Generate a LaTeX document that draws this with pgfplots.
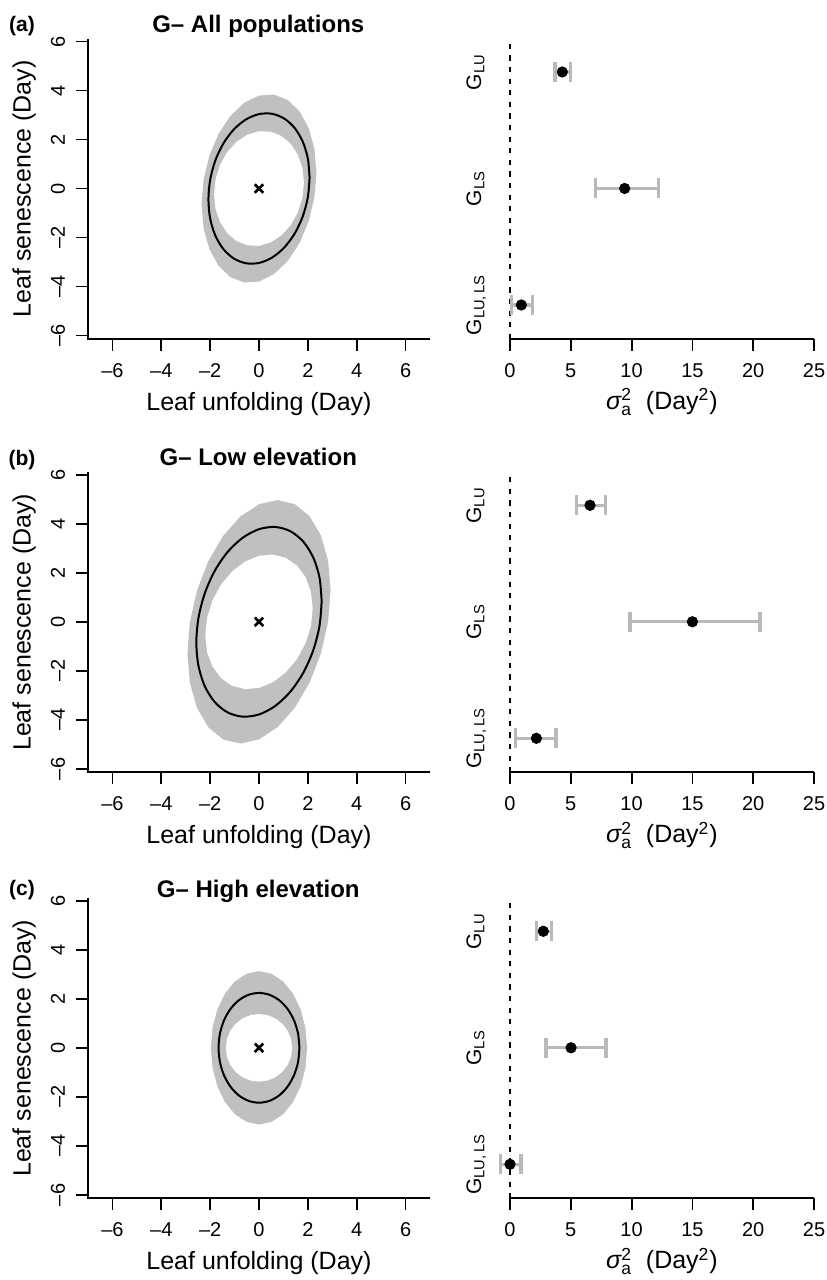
\documentclass[border=0pt]{standalone}
\usepackage{amsmath}
\usepackage{fontspec}
\setmainfont{Liberation Sans}
\usepackage{pgfplots}
\pgfplotsset{compat=1.18}
\definecolor{band}{RGB}{192,192,192}
\definecolor{errc}{RGB}{185,185,185}
\newcommand{\tickfont}{\fontsize{10}{12}\selectfont}
\newcommand{\labfont}{\fontsize{12.5}{15}\selectfont}
\newcommand{\glfont}{\fontsize{10.5}{12}\selectfont}
\newcommand{\lbl}[1]{\ifdim#1pt<0pt –\number-#1\else#1\fi}
\pgfplotsset{
 panelbase/.style={scale only axis, height=150pt,
   axis line style={draw=none},
   xtick pos=left, ytick pos=left,
   tick align=outside, major tick length=5.8pt,
   tick style={line width=0.9pt,black}, clip=false},
 leftax/.style={panelbase, width=171pt, xmin=-7, xmax=7, ymin=-6.14, ymax=6.1,
   xtick={-6,-4,...,6}, ytick={-6,-4,...,6},
   xticklabels={,,,,,,}, yticklabels={,,,,,,}},
 rightax/.style={panelbase, width=152pt, xmin=0, xmax=25, ymin=0.708, ymax=3.283,
   xtick={0,5,...,25}, xticklabels={,,,,,}, ytick=\empty},
 outer/.style={fill=band, draw=none},
 inner/.style={fill=white, draw=none},
 mean/.style={black, line width=1pt},
 cross/.style={only marks, mark=x, mark size=3pt, mark options={line width=1.3pt, black}},
 eb/.style={errc, line width=1.6pt, mark=|, mark size=5pt, mark options={line width=1.6pt, errc}},
 dotpt/.style={only marks, mark=*, mark size=2.6pt, black},
 zline/.style={black, line width=0.6pt, dash pattern=on 2.6pt off 3.2pt},
}
\newcommand{\Lframe}{%
  \draw[line width=0.9pt] (rel axis cs:0,1) -- (rel axis cs:0,0) -- (rel axis cs:1,0);
  \pgfplotsinvokeforeach{-6,-4,-2,0,2,4,6}{%
    \node[font=\tickfont, anchor=base, yshift=-19pt] at (axis cs:##1,-6.14) {\lbl{##1}};
    \node[font=\tickfont, xshift=-11.5pt, rotate=90, anchor=base] at (axis cs:-7,##1) {\lbl{##1}};}
  \node[font=\labfont] at (axis description cs:0.5,-0.2153) {Leaf unfolding (Day)};
  \node[font=\labfont, rotate=90] at (axis description cs:-0.187,0.5) {Leaf senescence (Day)};}
\newcommand{\Bframe}{%
  \draw[line width=0.9pt] (rel axis cs:0,0) -- (rel axis cs:1,0);
  \pgfplotsinvokeforeach{0,5,10,15,20,25}{%
    \node[font=\tickfont, anchor=base, yshift=-19pt] at (axis cs:##1,0.708) {##1};}
  \node[font=\glfont, xshift=-14.5pt, rotate=90, anchor=base] at (axis cs:0,3) {G\textsubscript{LU}};
  \node[font=\glfont, xshift=-14.5pt, rotate=90, anchor=base] at (axis cs:0,2) {G\textsubscript{LS}};
  \node[font=\glfont, xshift=-14.5pt, rotate=90, anchor=base] at (axis cs:0,1) {G\textsubscript{LU,\,LS}};
  \node[font=\labfont] at (axis description cs:0.5,-0.21) {{\itshape σ}$^{\text{2}}_{\text{a}}$\ \ (Day\textsuperscript{2})};}
\begin{document}
\begin{tikzpicture}
\path[use as bounding box] (0,0) rectangle (413pt,-640pt);
% ---------- Row (a)
\node[anchor=base, font=\bfseries\fontsize{10.5}{12}\selectfont] at (11pt,-15.85pt) {(a)};
\node[anchor=base, font=\bfseries\fontsize{12}{14}\selectfont] at (129.15pt,-16pt) {G– All populations};
\begin{axis}[leftax, at={(44pt,-169.5pt)}, anchor=south west]
\addplot[outer] coordinates {(2.350,0.655) (2.270,1.615) (2.035,2.464) (1.662,3.146) (1.175,3.614) (0.608,3.835) (0,3.794) (-0.608,3.495) (-1.175,2.958) (-1.662,2.220) (-2.035,1.330) (-2.270,0.349) (-2.350,-0.655) (-2.270,-1.615) (-2.035,-2.464) (-1.662,-3.146) (-1.175,-3.614) (-0.608,-3.835) (0,-3.794) (0.608,-3.495) (1.175,-2.958) (1.662,-2.220) (2.035,-1.330) (2.270,-0.349) (2.350,0.655)} -- cycle;
\addplot[inner] coordinates {(1.840,0.235) (1.777,0.832) (1.593,1.373) (1.301,1.819) (0.920,2.143) (0.476,2.319) (0,2.338) (-0.476,2.197) (-0.920,1.907) (-1.301,1.487) (-1.593,0.965) (-1.777,0.378) (-1.840,-0.235) (-1.777,-0.832) (-1.593,-1.373) (-1.301,-1.819) (-0.920,-2.143) (-0.476,-2.319) (0,-2.338) (0.476,-2.197) (0.920,-1.907) (1.301,-1.487) (1.593,-0.965) (1.777,-0.378) (1.840,0.235)} -- cycle;
\addplot[mean, smooth] coordinates {(2.070,0.448) (2.000,1.219) (1.793,1.907) (1.464,2.464) (1.035,2.854) (0.536,3.049) (0,3.037) (-0.536,2.817) (-1.035,2.406) (-1.464,1.830) (-1.793,1.131) (-2.000,0.353) (-2.070,-0.448) (-2.000,-1.219) (-1.793,-1.907) (-1.464,-2.464) (-1.035,-2.854) (-0.536,-3.049) (0,-3.037) (0.536,-2.817) (1.035,-2.406) (1.464,-1.830) (1.793,-1.131) (2.000,-0.353) (2.070,0.448)};
\addplot[cross] coordinates {(0,0)};
\Lframe
\end{axis}
\begin{axis}[rightax, at={(255pt,-169.5pt)}, anchor=south west]
\addplot[zline] coordinates {(0,0.708) (0,3.25)};
\addplot[eb] coordinates {(3.70,3) (4.95,3)};
\addplot[eb] coordinates {(7.05,2) (12.2,2)};
\addplot[eb] coordinates {(0.15,1) (1.84,1)};
\addplot[dotpt] coordinates {(4.30,3) (9.43,2) (0.93,1)};
\Bframe
\end{axis}
% ---------- Row (b)
\node[anchor=base, font=\bfseries\fontsize{10.5}{12}\selectfont] at (11pt,-232.5pt) {(b)};
\node[anchor=base, font=\bfseries\fontsize{12}{14}\selectfont] at (129.15pt,-232.5pt) {G– Low elevation};
\begin{axis}[leftax, at={(44pt,-386.15pt)}, anchor=south west]
\addplot[outer] coordinates {(2.930,1.292) (2.830,2.490) (2.537,3.519) (2.072,4.307) (1.465,4.802) (0.758,4.969) (0,4.799) (-0.758,4.301) (-1.465,3.510) (-2.072,2.479) (-2.537,1.281) (-2.830,-0.006) (-2.930,-1.292) (-2.830,-2.490) (-2.537,-3.519) (-2.072,-4.307) (-1.465,-4.802) (-0.758,-4.969) (0,-4.799) (0.758,-4.301) (1.465,-3.510) (2.072,-2.479) (2.537,-1.281) (2.830,0.006) (2.930,1.292)} -- cycle;
\addplot[inner] coordinates {(2.200,0.550) (2.125,1.228) (1.905,1.823) (1.556,2.294) (1.100,2.608) (0.569,2.744) (0,2.694) (-0.569,2.460) (-1.100,2.058) (-1.556,1.516) (-1.905,0.871) (-2.125,0.166) (-2.200,-0.550) (-2.125,-1.228) (-1.905,-1.823) (-1.556,-2.294) (-1.100,-2.608) (-0.569,-2.744) (0,-2.694) (0.569,-2.460) (1.100,-2.058) (1.556,-1.516) (1.905,-0.871) (2.125,-0.166) (2.200,0.550)} -- cycle;
\addplot[mean, smooth] coordinates {(2.565,0.846) (2.478,1.795) (2.221,2.623) (1.814,3.271) (1.283,3.697) (0.664,3.870) (0,3.780) (-0.664,3.432) (-1.283,2.851) (-1.814,2.075) (-2.221,1.157) (-2.478,0.161) (-2.565,-0.846) (-2.478,-1.795) (-2.221,-2.623) (-1.814,-3.271) (-1.283,-3.697) (-0.664,-3.870) (0,-3.780) (0.664,-3.432) (1.283,-2.851) (1.814,-2.075) (2.221,-1.157) (2.478,-0.161) (2.565,0.846)};
\addplot[cross] coordinates {(0,0)};
\Lframe
\end{axis}
\begin{axis}[rightax, at={(255pt,-386.15pt)}, anchor=south west]
\addplot[zline] coordinates {(0,0.708) (0,3.25)};
\addplot[eb] coordinates {(5.48,3) (7.84,3)};
\addplot[eb] coordinates {(9.87,2) (20.56,2)};
\addplot[eb] coordinates {(0.47,1) (3.78,1)};
\addplot[dotpt] coordinates {(6.58,3) (15.0,2) (2.17,1)};
\Bframe
\end{axis}
% ---------- Row (c)
\node[anchor=base, font=\bfseries\fontsize{10.5}{12}\selectfont] at (11pt,-447.5pt) {(c)};
\node[anchor=base, font=\bfseries\fontsize{12}{14}\selectfont] at (129.15pt,-448.65pt) {G– High elevation};
\begin{axis}[leftax, at={(44pt,-599.15pt)}, anchor=south west]
\addplot[outer] coordinates {(1.970,0) (1.903,0.810) (1.706,1.565) (1.393,2.213) (0.985,2.711) (0.510,3.023) (0,3.130) (-0.510,3.023) (-0.985,2.711) (-1.393,2.213) (-1.706,1.565) (-1.903,0.810) (-1.970,0) (-1.903,-0.810) (-1.706,-1.565) (-1.393,-2.213) (-0.985,-2.711) (-0.510,-3.023) (0,-3.130) (0.510,-3.023) (0.985,-2.711) (1.393,-2.213) (1.706,-1.565) (1.903,-0.810) (1.970,0)} -- cycle;
\addplot[inner] coordinates {(1.360,0) (1.314,0.357) (1.178,0.690) (0.962,0.976) (0.680,1.195) (0.352,1.333) (0,1.380) (-0.352,1.333) (-0.680,1.195) (-0.962,0.976) (-1.178,0.690) (-1.314,0.357) (-1.360,0) (-1.314,-0.357) (-1.178,-0.690) (-0.962,-0.976) (-0.680,-1.195) (-0.352,-1.333) (0,-1.380) (0.352,-1.333) (0.680,-1.195) (0.962,-0.976) (1.178,-0.690) (1.314,-0.357) (1.360,0)} -- cycle;
\addplot[mean, smooth] coordinates {(1.655,0) (1.599,0.580) (1.433,1.120) (1.170,1.584) (0.828,1.940) (0.428,2.164) (0,2.240) (-0.428,2.164) (-0.828,1.940) (-1.170,1.584) (-1.433,1.120) (-1.599,0.580) (-1.655,0) (-1.599,-0.580) (-1.433,-1.120) (-1.170,-1.584) (-0.828,-1.940) (-0.428,-2.164) (0,-2.240) (0.428,-2.164) (0.828,-1.940) (1.170,-1.584) (1.433,-1.120) (1.599,-0.580) (1.655,0)};
\addplot[cross] coordinates {(0,0)};
\Lframe
\end{axis}
\begin{axis}[rightax, at={(255pt,-599.15pt)}, anchor=south west]
\addplot[zline] coordinates {(0,0.708) (0,3.25)};
\addplot[eb] coordinates {(2.20,3) (3.43,3)};
\addplot[eb] coordinates {(2.96,2) (7.90,2)};
\addplot[eb] coordinates {(-0.77,1) (0.90,1)};
\addplot[dotpt] coordinates {(2.74,3) (5.02,2) (0.00,1)};
\Bframe
\end{axis}
\end{tikzpicture}
\end{document}
